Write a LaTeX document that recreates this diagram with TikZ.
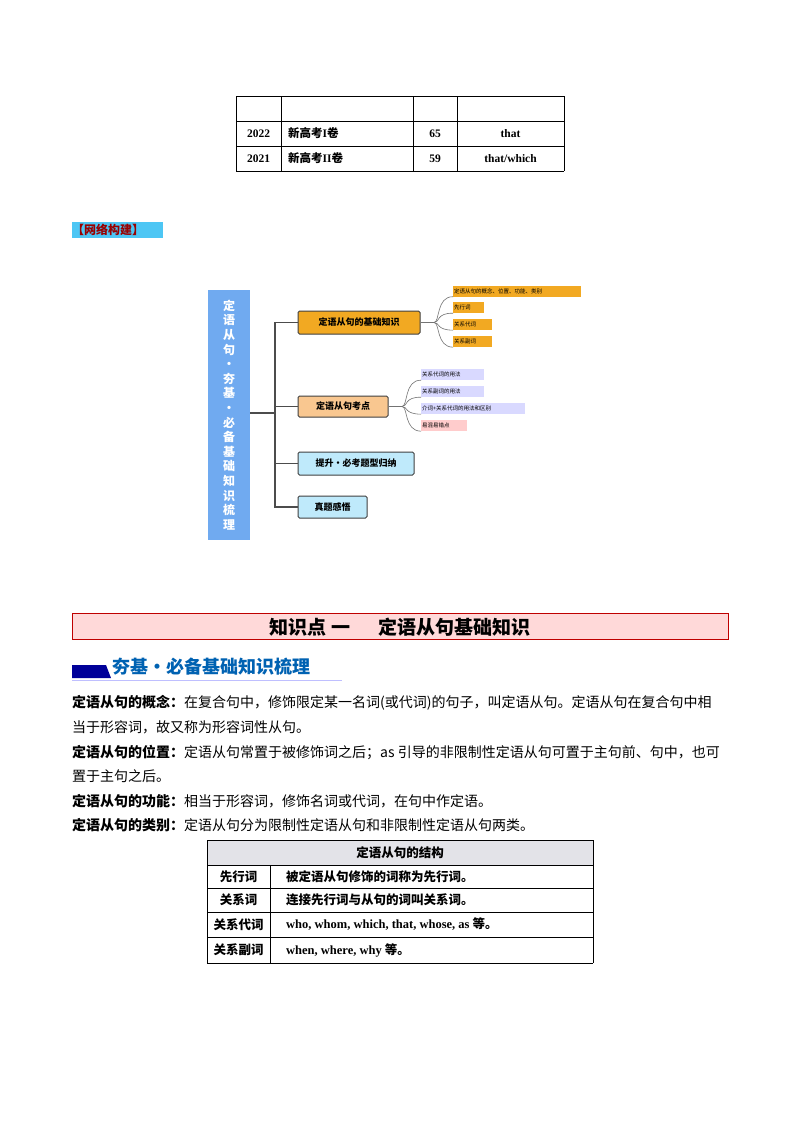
\documentclass[tikz,border=0pt]{standalone}
\usepackage{fontspec}
\setmainfont{Liberation Serif}
\newfontfamily\cjk{Noto Sans CJK SC}
\definecolor{orgA}{HTML}{F2A922}
\definecolor{orgB}{HTML}{F9C790}
\definecolor{barC}{HTML}{70AAF0}
\begin{document}
\begin{tikzpicture}[x=1pt,y=-1pt,
  cell/.style={draw=black,line width=0.8pt},
  tx/.style={font=\bfseries\fontsize{11.5}{12}\selectfont,inner sep=0},
  body/.style={anchor=west,inner sep=0,font=\cjk\fontsize{14}{15}\selectfont},
  mbox/.style={draw=black!75,line width=1pt,rounded corners=1.5pt,inner sep=0,font=\cjk\bfseries\fontsize{9}{10}\selectfont},
  sub/.style={inner sep=0,font=\cjk\fontsize{5.5}{6}\selectfont,anchor=west,align=left,minimum height=11},
  link/.style={draw=black!70,line width=1.2pt},
  clink/.style={draw=black!55,line width=0.6pt},
  stc/.style={cell,line width=0.7pt}]
\useasboundingbox (0,0) rectangle (800,1132);
\fill[white] (0,0) rectangle (800,1132);
% top table
\foreach \y in {96,121,146,171} \draw[cell] (236,\y) -- (564,\y);
\foreach \x in {236,281,413,457,564} \draw[cell] (\x,96) -- (\x,171);
\node[tx] (y1) at (258.5,133.5) {2022};
\node[tx,anchor=west] (p1) at (288,133.5) {{\cjk 新高考}I{\cjk 卷}};
\node[tx] (n1) at (435,133.5) {65};
\node[tx] (a1) at (510.5,133.5) {that};
\node[tx] (y2) at (258.5,158.5) {2021};
\node[tx,anchor=west] (p2) at (288,158.5) {{\cjk 新高考}II{\cjk 卷}};
\node[tx] (n2) at (435,158.5) {59};
\node[tx] (a2) at (510.5,158.5) {that/which};
% network label
\fill[cyan!70!white] (72,222) rectangle (163,238);
\node[anchor=west,inner sep=0,text=red!60!black,font=\cjk\bfseries\fontsize{12}{13}\selectfont] (net) at (72,230) {【网络构建】};
% mind map
\fill[barC] (208,290) rectangle (250,540);
\node[inner sep=0,text=white,align=center,font=\cjk\bfseries\fontsize{12}{14.6}\selectfont] (root) at (229,415) {定\\语\\从\\句\\·\\夯\\基\\·\\必\\备\\基\\础\\知\\识\\梳\\理};
\coordinate (rr) at (250,413);
\coordinate (tr) at (275,413);
\node[mbox,fill=orgA,minimum width=122,minimum height=23] (b1) at (359,322.5) {定语从句的基础知识};
\node[mbox,fill=orgB,minimum width=90,minimum height=21] (b2) at (343,406.5) {定语从句考点};
\node[mbox,fill=cyan!25,minimum width=116,minimum height=23] (b3) at (356,463.5) {提升·必考题型归纳};
\node[mbox,fill=cyan!25,minimum width=69,minimum height=22] (b4) at (332.5,507) {真题感悟};
\draw[link] (rr) -- (tr);
\draw[link] (b1.west) -- (275,322.5) -- (275,507) -- (b4.west);
\draw[link] (275,406.5) -- (b2.west);
\draw[link] (275,463.5) -- (b3.west);
% sub items of b1
\node[sub,fill=orgA,text width=128] (s11) at (453,291) {\,定语从句的概念、位置、功能、类别};
\node[sub,fill=orgA,text width=31] (s12) at (453,307.5) {\,先行词};
\node[sub,fill=orgA,text width=39] (s13) at (453,324.5) {\,关系代词};
\node[sub,fill=orgA,text width=39] (s14) at (453,341.5) {\,关系副词};
\coordinate (j1) at (434,322.5);
\draw[clink] (b1.east) -- (j1);
\foreach \s/\yy in {s11/296.5,s12/313,s13/330,s14/347} \draw[clink] (j1) .. controls (440,322.5) and (436,\yy) .. (\s.south west);
% sub items of b2
\node[sub,fill=blue!15,text width=63] (s21) at (421,374.5) {\,关系代词的用法};
\node[sub,fill=blue!15,text width=63] (s22) at (421,391.5) {\,关系副词的用法};
\node[sub,fill=blue!15,text width=104] (s23) at (421,408.5) {\,介词+关系代词的用法和区别};
\node[sub,fill=red!20,text width=46] (s24) at (421,425.5) {\,易混易错点};
\coordinate (j2) at (402,406.5);
\draw[clink] (b2.east) -- (j2);
\foreach \s/\yy in {s21/380,s22/397,s23/414,s24/431} \draw[clink] (j2) .. controls (408,406.5) and (404,\yy) .. (\s.south west);
% heading
\draw[fill=red!15,draw=red!75!black,line width=0.8pt] (72,613) rectangle (728,639);
\node[inner sep=0,font=\cjk\bfseries\fontsize{19}{20}\selectfont] (h1) at (400,627) {知识点\ 一\quad\ \ 定语从句基础知识};
\fill[blue!60!black] (72,665) -- (106,665) -- (111,678) -- (72,678) -- cycle;
\draw[blue!25,line width=0.8pt] (72,680.5) -- (342,680.5);
\node[anchor=west,inner sep=0,text=blue!45!cyan!70!black,font=\cjk\bfseries\fontsize{18}{20}\selectfont] (h2) at (112,667) {夯基·必备基础知识梳理};
% body
\node[body] (l1) at (72,703) {\textbf{定语从句的概念：}在复合句中，修饰限定某一名词(或代词)的句子，叫定语从句。定语从句在复合句中相};
\node[body] (l2) at (72,727) {当于形容词，故又称为形容词性从句。};
\node[body] (l3) at (72,752) {\textbf{定语从句的位置：}定语从句常置于被修饰词之后；as 引导的非限制性定语从句可置于主句前、句中，也可};
\node[body] (l4) at (72,776) {置于主句之后。};
\node[body] (l5) at (72,801) {\textbf{定语从句的功能：}相当于形容词，修饰名词或代词，在句中作定语。};
\node[body] (l6) at (72,825) {\textbf{定语从句的类别：}定语从句分为限制性定语从句和非限制性定语从句两类。};
% structure table
\fill[blue!10!gray!20] (207,840) rectangle (593,865);
\foreach \y in {840,865,888,912,937,963} \draw[stc] (207,\y) -- (593,\y);
\draw[stc] (207,840) -- (207,963); \draw[stc] (593,840) -- (593,963);
\draw[stc] (270,865) -- (270,963);
\tikzset{tc/.style={inner sep=0,font=\cjk\bfseries\fontsize{12.5}{13}\selectfont},tl/.style={tc,anchor=west}}
\node[tc] (t0) at (400,852.5) {定语从句的结构};
\node[tc] (k1) at (238.5,876.5) {先行词};
\node[tl] (v1) at (286,876.5) {被定语从句修饰的词称为先行词。};
\node[tc] (k2) at (238.5,900) {关系词};
\node[tl] (v2) at (286,900) {连接先行词与从句的词叫关系词。};
\node[tc] (k3) at (238.5,924.5) {关系代词};
\node[tl] (v3) at (286,924.5) {{\rmfamily\bfseries who, whom, which, that, whose, as }等。};
\node[tc] (k4) at (238.5,950) {关系副词};
\node[tl] (v4) at (286,950) {{\rmfamily\bfseries when, where, why }等。};
\end{tikzpicture}
\end{document}
